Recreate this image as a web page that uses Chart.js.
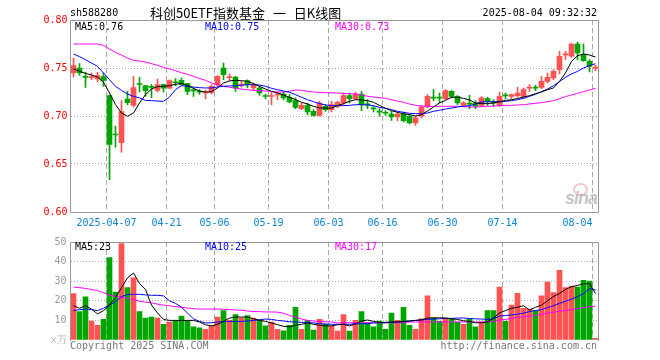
<!DOCTYPE html>
<html>
<head>
<meta charset="utf-8">
<title>科创50ETF指数基金 日K线图</title>
<script src="https://cdn.jsdelivr.net/npm/chart.js@4.4.1/dist/chart.umd.min.js"></script>
<style>
  body { margin: 0; background: #fff; }
  #wrap { position: relative; width: 660px; height: 360px; overflow: hidden; font-family: "DejaVu Sans Mono", monospace; font-size: 10px; }
  canvas { position: absolute; left: 0; }
  #priceChart { top: 0; }
  #volChart { top: 232px; }
  .t { position: absolute; white-space: pre; line-height: 12px; }
  #title { font-family: "Noto Sans CJK SC", sans-serif; font-size: 13px; line-height: 16px; word-spacing: 5px; }
  #logo { position: absolute; left: 565px; top: 188px; font: italic bold 18px "Liberation Sans", sans-serif; color: rgba(150,150,150,0.55); letter-spacing: -1px; }
  #eye { position: absolute; left: 573px; top: 183px; width: 11px; height: 9px; border: 2px solid rgba(240,150,150,0.55); border-radius: 50%; }
</style>
</head>
<body>
<div id="wrap">
  <canvas id="priceChart" width="660" height="232"></canvas>
  <canvas id="volChart" width="660" height="128"></canvas>
  <div class="t" style="left:70px;top:7px;color:#000">sh588280</div>
  <div class="t" id="title" style="left:150px;top:5px;color:#000">科创50ETF指数基金 一 日K线图</div>
  <div class="t" style="right:63px;top:7px;color:#000">2025-08-04 09:32:32</div>
  <div class="t" style="left:75px;top:21px;color:#000">MA5:0.76</div>
  <div class="t" style="left:205px;top:21px;color:#0000ff">MA10:0.75</div>
  <div class="t" style="left:335px;top:21px;color:#ff00ff">MA30:0.73</div>
  <div class="t" style="left:75px;top:241px;color:#000">MA5:23</div>
  <div class="t" style="left:205px;top:241px;color:#0000ff">MA10:25</div>
  <div class="t" style="left:335px;top:241px;color:#ff00ff">MA30:17</div>
  <div class="t" style="left:70px;top:340px;color:#777">Copyright 2025 SINA.COM</div>
  <div class="t" style="right:63px;top:340px;color:#777">http://finance.sina.com.cn</div>
  <div id="eye"></div>
  <div id="logo">sina</div>
</div>
<script>
// 交易日
const dates = [
  '2025-03-27','2025-03-28','2025-03-31','2025-04-01','2025-04-02','2025-04-03','2025-04-07','2025-04-08','2025-04-09','2025-04-10',
  '2025-04-11','2025-04-14','2025-04-15','2025-04-16','2025-04-17','2025-04-18','2025-04-21','2025-04-22','2025-04-23','2025-04-24',
  '2025-04-25','2025-04-28','2025-04-29','2025-04-30','2025-05-06','2025-05-07','2025-05-08','2025-05-09','2025-05-12','2025-05-13',
  '2025-05-14','2025-05-15','2025-05-16','2025-05-19','2025-05-20','2025-05-21','2025-05-22','2025-05-23','2025-05-26','2025-05-27',
  '2025-05-28','2025-05-29','2025-05-30','2025-06-03','2025-06-04','2025-06-05','2025-06-06','2025-06-09','2025-06-10','2025-06-11',
  '2025-06-12','2025-06-13','2025-06-16','2025-06-17','2025-06-18','2025-06-19','2025-06-20','2025-06-23','2025-06-24','2025-06-25',
  '2025-06-26','2025-06-27','2025-06-30','2025-07-01','2025-07-02','2025-07-03','2025-07-04','2025-07-07','2025-07-08','2025-07-09',
  '2025-07-10','2025-07-11','2025-07-14','2025-07-15','2025-07-16','2025-07-17','2025-07-18','2025-07-21','2025-07-22','2025-07-23',
  '2025-07-24','2025-07-25','2025-07-28','2025-07-29','2025-07-30','2025-07-31','2025-08-01','2025-08-04'
];

// 刻度
const tickDates = ['2025-04-07','2025-04-21','2025-05-06','2025-05-19','2025-06-03','2025-06-16','2025-06-30','2025-07-14','2025-08-04'];
const tickText = ['2025-04-07','04-21','05-06','05-19','06-03','06-16','06-30','07-14','08-04'];
const priceTicks = [0.60, 0.65, 0.70, 0.75, 0.80];
const volTicks = [0, 10, 20, 30, 40, 50];

// K线
const open = [
  .7448,.7500,.7410,.7400,.7386,.7410,.7212,.6808,.6722,.7177,
  .7110,.7333,.7316,.7301,.7266,.7326,.7290,.7350,.7372,.7337,
  .7266,.7252,.7240,.7242,.7326,.7500,.7400,.7406,.7322,.7368,
  .7292,.7292,.7207,.7203,.7220,.7229,.7195,.7160,.7077,.7111,
  .7049,.7007,.7101,.7066,.7100,.7136,.7212,.7180,.7229,.7120,
  .7079,.7044,.7033,.7021,.6990,.7021,.6997,.6927,.6997,.7094,
  .7190,.7190,.7180,.7257,.7205,.7111,.7127,.7136,.7111,.7181,
  .7138,.7111,.7214,.7205,.7212,.7205,.7290,.7294,.7299,.7361,
  .7396,.7483,.7637,.7622,.7750,.7639,.7569,.7498
];
const close = [
  .7524,.7448,.7403,.7405,.7420,.7370,.6705,.6802,.7047,.7140,
  .7297,.7328,.7265,.7298,.7326,.7290,.7368,.7346,.7326,.7257,
  .7262,.7248,.7245,.7309,.7413,.7430,.7404,.7292,.7328,.7326,
  .7326,.7240,.7203,.7207,.7224,.7188,.7146,.7090,.7111,.7042,
  .7007,.7135,.7066,.7118,.7142,.7212,.7180,.7229,.7118,.7116,
  .7075,.7040,.7029,.6990,.7021,.6952,.6927,.6980,.7094,.7205,
  .7186,.7186,.7264,.7205,.7136,.7136,.7123,.7100,.7188,.7153,
  .7134,.7205,.7210,.7222,.7240,.7274,.7294,.7290,.7361,.7403,
  .7465,.7622,.7641,.7750,.7656,.7576,.7517,.7502
];
const high = [
  .7604,.7545,.7458,.7448,.7455,.7448,.7215,.6895,.7160,.7260,
  .7413,.7403,.7318,.7326,.7385,.7330,.7378,.7389,.7396,.7340,
  .7292,.7275,.7270,.7326,.7420,.7552,.7438,.7413,.7360,.7378,
  .7344,.7309,.7229,.7250,.7250,.7250,.7222,.7188,.7135,.7135,
  .7066,.7153,.7118,.7153,.7153,.7240,.7240,.7250,.7257,.7170,
  .7101,.7077,.7056,.7049,.7042,.7042,.7014,.6997,.7111,.7222,
  .7274,.7240,.7274,.7264,.7212,.7150,.7215,.7160,.7201,.7195,
  .7170,.7250,.7240,.7229,.7299,.7292,.7326,.7320,.7413,.7448,
  .7483,.7674,.7674,.7760,.7770,.7750,.7587,.7528
];
const low = [
  .7406,.7424,.7299,.7378,.7354,.7309,.6337,.6676,.6623,.7115,
  .7094,.7250,.7205,.7190,.7250,.7248,.7285,.7316,.7316,.7222,
  .7205,.7225,.7177,.7230,.7310,.7378,.7368,.7257,.7300,.7292,
  .7264,.7215,.7177,.7118,.7170,.7170,.7136,.7077,.7066,.7014,
  .6997,.6997,.7049,.7042,.7083,.7118,.7136,.7170,.7056,.7077,
  .7042,.6997,.7007,.6955,.6952,.6938,.6917,.6903,.6980,.7083,
  .7160,.7136,.7170,.7188,.7118,.7100,.7077,.7077,.7101,.7111,
  .7101,.7101,.7181,.7181,.7195,.7188,.7257,.7264,.7285,.7344,
  .7378,.7438,.7587,.7611,.7587,.7569,.7458,.7472
];

// 均线
const ma5 = [
  .749,.7465,.7444,.7427,.7406,.7351,.724,.7118,.7031,.6997,
  .7031,.7136,.7222,.7281,.7306,.7309,.7316,.733,.734,.7319,
  .7288,.726,.725,.7254,.7292,.7344,.7365,.7372,.7368,.7361,
  .7337,.7309,.7281,.7257,.724,.7219,.7195,.717,.7143,.7125,
  .7101,.7083,.7083,.7083,.7108,.7129,.7153,.717,.7167,.716,
  .7143,.7111,.708,.7056,.7038,.7024,.7014,.7,.7014,.7052,
  .7094,.7136,.7163,.7195,.7195,.7184,.7167,.7136,.7129,.7129,
  .7136,.7149,.7163,.717,.7181,.7198,.7212,.7233,.725,.7274,
  .7292,.7361,.7448,.7569,.7628,.7646,.7635,.7614
];
const ma10 = [
  .7646,.7618,.7587,.7552,.7517,.7448,.7378,.7309,.7267,.7229,
  .7205,.7188,.7163,.716,.7156,.7153,.7198,.7274,.7316,.7309,
  .7302,.7295,.7292,.7292,.7302,.7309,.7313,.7316,.732,.7326,
  .7326,.7323,.7309,.7288,.7274,.726,.7247,.7222,.7195,.717,
  .7149,.7129,.7115,.7108,.7108,.7108,.7111,.7118,.7118,.7115,
  .7108,.709,.708,.7066,.7049,.7038,.7028,.7024,.7024,.7031,
  .7049,.7059,.7073,.7083,.7094,.7101,.7108,.7125,.7146,.7149,
  .7149,.7149,.7153,.716,.717,.7184,.7205,.7226,.7254,.7281,
  .7316,.7358,.7403,.7438,.7465,.75,.7524,.7545
];
const ma30 = [
  .775,.775,.775,.775,.775,.7736,.7698,.7663,.7635,.7601,
  .758,.7573,.7562,.7545,.7528,.7507,.749,.7472,.7451,.7434,
  .7413,.7392,.7372,.7344,.7323,.7313,.7299,.7288,.7281,.7274,
  .7267,.7264,.726,.7257,.725,.725,.7257,.7271,.7267,.7257,
  .725,.7247,.7243,.724,.724,.7236,.7233,.7229,.7219,.7205,
  .7198,.7191,.7184,.717,.7156,.7143,.7125,.7111,.7104,.7101,
  .7101,.7101,.7101,.7101,.7101,.7097,.7094,.7094,.7097,.7101,
  .7104,.7108,.7111,.7111,.7115,.7118,.7125,.7132,.7139,.7149,
  .716,.7181,.7202,.7219,.7236,.7254,.7271,.7288
];

// 成交量(万)
const volume = [
  23.7,14.5,22,9.7,7.5,10.5,42,24.5,49.2,26.7,
  31.7,14.5,11.2,11.7,11.2,8,9.2,10,12.2,10,
  6.7,6.2,5.5,7.2,11.7,15,10,13,11.2,12.5,
  11.2,10.3,7.2,9.2,5.5,4.7,7.5,16.7,5.5,10,
  5,10.5,8,7,4.5,13,4.5,10,14.5,8.8,
  6.7,9.7,5.5,13.7,10,16.7,7.5,5.5,10.8,22.5,
  11.2,9.5,10.8,10.5,9.2,8,10.5,6.7,9.2,15,
  15,27,9.5,17.8,23.8,16.2,15.8,15,22.5,29.5,
  24.2,35.5,26.7,27.5,27,30.5,30,0.8
];
const vma5 = [
  17.5,16.2,17.5,15.8,13.3,15,17.8,21.7,26.7,31.7,
  34.2,28.8,25.8,17.8,13.8,10.5,10,10,10,10,
  10,9.2,7.8,7.2,8,9.5,11.2,11.7,11.7,11.7,
  10.8,10,9.5,8.7,7.8,7,6.7,7.5,8,8.7,
  8,7.5,7.2,7.2,7.8,8,7.2,8.3,9.7,10.2,
  9.5,9,9,9.2,9.2,9.5,9.7,10,10.3,11.2,
  11.3,11.3,11.3,10.8,10.5,9.8,9.5,8.8,8.8,9.2,
  11.2,13.8,15,16.2,16.7,17.5,15.3,16.7,17.8,20,
  22.2,23.7,25.8,27.2,27.8,28.7,28.8,23.7
];
const vma10 = [
  15,15.5,15.8,15.5,15,16.2,17.8,19.5,22.2,23.2,
  23.3,23.3,23,22.8,22.8,22.5,20,18.7,16.7,13.7,
  10.8,9.5,8.7,8.8,9.2,9.3,9.5,9.5,9.5,9.7,
  10,10.3,10.7,10.5,10,9.7,9.3,9.2,9,9,
  8.7,8.3,8.2,8,8,8,8,8.2,8.3,8.3,
  8.7,8.8,8.8,9,9.2,9.3,9.7,10,10.2,10.5,
  10.7,10.8,11,11,11.2,11.2,11,10.8,10.7,10.5,
  10.8,12.2,12.5,12.8,13.2,13.7,14.5,15,15.5,16.5,
  17.5,18.7,19.8,20.8,22.2,23.7,26.2,25.5
];
const vma30 = [
  27,26.7,26.3,25.8,25.2,24.2,22.8,22.3,21.8,21.2,
  20.5,19.8,19.3,19,18.3,17.8,17.5,17,16.7,16.3,
  16,15.8,15.8,15.8,15.8,15.7,15.5,15.3,15.2,14.8,
  14.5,14.5,14.3,14.3,14.2,13.7,12.5,11.7,10.7,10,
  9.7,9.5,9.3,9.2,8.7,8.8,8.8,8.8,8.8,8.8,
  8.8,8.8,8.8,8.8,8.8,8.8,9.2,9.2,9.2,9.2,
  9.2,9.2,9.2,9.2,9.2,9.2,9.2,9.2,9.2,9.2,
  9.5,10.2,10.5,11,11.7,11.8,12.2,12.5,13.2,13.7,
  14.2,14.7,15,15.5,16,16.5,17,17.3
];

const UP = '#ff5252';
const DOWN = '#00a600';
const GRID = '#aaaaaa';
const candleColor = dates.map((d, i) => close[i] >= open[i] ? UP : DOWN);
const tickIdx = tickDates.map(d => dates.indexOf(d));

Chart.defaults.font.family = '"DejaVu Sans Mono", monospace';
Chart.defaults.font.size = 10;
Chart.defaults.animation = false;

// 边框
function framePlugin(withBottom) {
  return {
    id: 'frame',
    afterDraw(chart) {
      const { ctx, chartArea: a } = chart;
      const l = Math.floor(a.left) + 0.5, r = Math.floor(a.right) + 0.5;
      const t = Math.floor(a.top) + 0.5, b = Math.floor(a.bottom) + 0.5;
      ctx.save();
      ctx.strokeStyle = '#999';
      ctx.lineWidth = 1;
      ctx.beginPath();
      ctx.moveTo(l, withBottom ? b : a.bottom + 1);
      ctx.lineTo(l, t);
      ctx.lineTo(r, t);
      ctx.lineTo(r, withBottom ? b : a.bottom + 1);
      if (withBottom) ctx.lineTo(l, b);
      ctx.stroke();
      ctx.restore();
    }
  };
}

function lineSet(data, color) {
  return {
    type: 'line', data, borderColor: color, borderWidth: 1,
    pointRadius: 0, tension: 0, order: 0
  };
}

function xAxis(showLabels) {
  return {
    type: 'category',
    offset: true,
    grid: {
      offset: true,
      drawTicks: false,
      color: c => tickIdx.includes(c.index) ? GRID : 'rgba(0,0,0,0)'
    },
    border: { display: false, dash: [5, 3] },
    ticks: {
      display: showLabels,
      autoSkip: false,
      maxRotation: 0,
      padding: 5,
      labelOffset: -3,
      color: '#0a84d0',
      callback: (v, i) => {
        const k = tickIdx.indexOf(i);
        if (k < 0) return '';
        return k === tickIdx.length - 1 ? tickText[k] + '     ' : tickText[k];
      }
    },
    afterFit: s => { s.height = 20; }
  };
}

new Chart(document.getElementById('priceChart'), {
  data: {
    labels: dates,
    datasets: [
      lineSet(ma5, '#000000'),
      lineSet(ma10, '#0000ff'),
      lineSet(ma30, '#ff00ff'),
      {
        type: 'bar', data: dates.map((d, i) => [open[i], close[i]]),
        backgroundColor: candleColor, barThickness: 5, minBarLength: 1,
        grouped: false, order: 1
      },
      {
        type: 'bar', data: dates.map((d, i) => [low[i], high[i]]),
        backgroundColor: candleColor, barThickness: 1,
        grouped: false, order: 2
      }
    ]
  },
  options: {
    responsive: false,
    layout: { padding: { left: 0, top: 20, right: 61.5, bottom: 0 } },
    plugins: { legend: { display: false }, tooltip: { enabled: false } },
    scales: {
      x: xAxis(true),
      y: {
        min: 0.6, max: 0.8,
        afterBuildTicks: s => { s.ticks = priceTicks.map(v => ({ value: v })); },
        grid: { color: GRID, drawTicks: false },
        border: { display: false, dash: [1, 2] },
        ticks: { color: '#ff0000', padding: 3, callback: v => v.toFixed(2) },
        afterFit: s => { s.width = 70.5; }
      }
    }
  },
  plugins: [framePlugin(true)]
});

new Chart(document.getElementById('volChart'), {
  data: {
    labels: dates,
    datasets: [
      lineSet(vma5, '#000000'),
      lineSet(vma10, '#0000ff'),
      lineSet(vma30, '#ff00ff'),
      {
        type: 'bar', data: volume, backgroundColor: candleColor,
        barThickness: 5, grouped: false, order: 1
      }
    ]
  },
  options: {
    responsive: false,
    layout: { padding: { left: 0, top: 8, right: 61.5, bottom: 0 } },
    plugins: { legend: { display: false }, tooltip: { enabled: false } },
    scales: {
      x: xAxis(false),
      y: {
        min: 0, max: 50,
        afterBuildTicks: s => { s.ticks = volTicks.map(v => ({ value: v })); },
        grid: {
          drawTicks: false,
          color: c => (c.tick.value === 0 || c.tick.value === 50) ? 'rgba(0,0,0,0)' : GRID
        },
        border: { display: false, dash: [1, 2] },
        ticks: {
          padding: 4,
          color: c => c.tick.value === 0 ? '#bbbbbb' : '#999999',
          callback: v => v === 0 ? 'x万' : String(v)
        },
        afterFit: s => { s.width = 70.5; }
      }
    }
  },
  plugins: [framePlugin(false)]
});
</script>
</body>
</html>
